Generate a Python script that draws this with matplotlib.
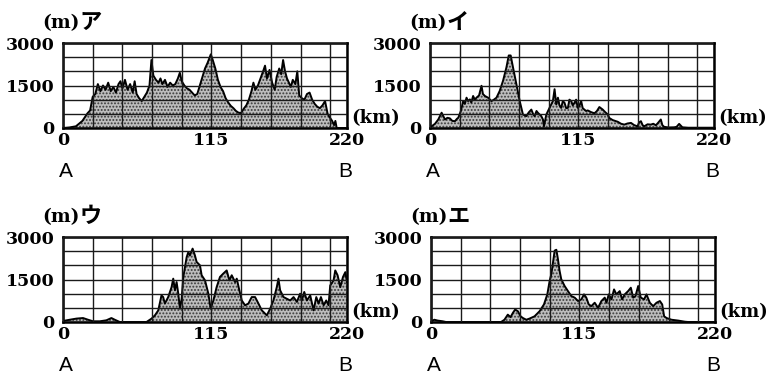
import numpy as np
import matplotlib.pyplot as plt

plt.rcParams['hatch.linewidth'] = 0.9

# 断面図の値 (距離 km, 標高 m)
km_a = [0, 5, 10, 15, 19, 21, 23, 25, 27, 29, 31, 33, 35, 37, 39, 41, 43, 44.5, 46, 48, 50, 52, 54, 55.5,
        57, 59, 61, 63, 65, 67, 68.5, 70, 72, 74, 75.5, 77, 79, 81, 83, 85, 87, 89, 90.5, 92, 94, 96, 98,
        100, 102, 104, 106, 108, 110, 112, 114.5, 116, 118, 120, 122, 124, 126, 128, 130, 132, 134, 136,
        138, 140, 142, 144, 146, 147.5, 149, 151, 153, 155, 156.5, 158, 160, 162, 164, 165.5, 167.5, 169,
        170.5, 172, 173.5, 175, 176.5, 178, 180, 181.5, 183, 185, 187, 189, 191, 193, 195, 197, 199, 201,
        203, 205, 207, 208.5, 210, 211, 212, 220]
elev_a = [0, 20, 60, 250, 520, 620, 1100, 1200, 1550, 1300, 1500, 1350, 1600, 1300, 1450, 1250, 1550, 1650,
          1400, 1700, 1350, 1550, 1250, 1650, 1200, 1050, 950, 1100, 1250, 1500, 2400, 1850, 1700, 1600, 1750,
          1550, 1700, 1450, 1600, 1500, 1550, 1750, 1950, 1650, 1500, 1400, 1350, 1250, 1150, 1200, 1500,
          1800, 2100, 2300, 2600, 2400, 2100, 1700, 1450, 1300, 1050, 900, 780, 700, 600, 540, 530, 680, 800,
          1000, 1300, 1600, 1350, 1500, 1750, 2000, 2200, 1750, 2050, 1600, 1350, 1800, 2100, 1900, 2400,
          2000, 1750, 1600, 1450, 1700, 1550, 2000, 1150, 1050, 1000, 1200, 1250, 1000, 850, 750, 700, 800,
          950, 500, 350, 250, 100, 250, 0, 0]

km_i = [0, 1.3, 3.9, 6.4, 9, 10.5, 11.6, 13.5, 15.4, 17.3, 19.3, 21, 21.9, 23.9, 25.7, 27, 28.3, 29.5, 30.9,
        32, 33.4, 34.7, 36, 38, 39.9, 41, 42.5, 45, 47.6, 49.5, 51.5, 54, 56.6, 59.2, 61, 62.5, 64.3, 66.9,
        69.5, 72, 74.6, 76.5, 78.5, 80, 81, 82.5, 83.6, 86.2, 87.5, 88.3, 90.1, 92.6, 95.2, 96.5, 97.8, 99.1,
        100.3, 101.6, 102.9, 104.2, 105.5, 106.8, 108, 109.4, 110.6, 111.9, 113.2, 114.5, 115.8, 117.1,
        118.3, 119.6, 120.9, 122.2, 124.8, 127.4, 129.3, 131.2, 133.8, 135.7, 137.7, 139, 141.5, 145.4, 148,
        150.5, 153, 155.7, 158.2, 160.8, 162, 163.4, 164.7, 166, 168.5, 171.1, 173, 175, 177, 178.8, 180,
        181.4, 185, 189.1, 191, 193, 195.5, 200, 220]
elev_i = [50, 60, 150, 300, 540, 400, 300, 360, 340, 250, 240, 330, 360, 600, 950, 850, 1070, 950, 1010, 900,
          1130, 1000, 1070, 1150, 1490, 1200, 1130, 1070, 950, 1000, 1070, 1310, 1670, 2140, 2560, 2560, 2140,
          1550, 950, 475, 420, 550, 650, 480, 420, 600, 535, 420, 300, 60, 475, 710, 950, 1370, 830, 1070, 800,
          710, 950, 890, 700, 710, 1000, 950, 800, 890, 1000, 710, 800, 950, 700, 650, 600, 620, 560, 520, 600,
          740, 650, 560, 480, 350, 280, 220, 150, 120, 160, 180, 100, 60, 200, 240, 100, 60, 130, 120, 150, 95,
          200, 300, 100, 40, 20, 25, 40, 145, 25, 10, 10]

km_u = [0, 5.2, 10.4, 15.5, 19.4, 23.3, 28.5, 33.6, 37.5, 40.1, 44, 54.3, 64.7, 68.6, 71.2, 73.8, 76.3, 77.6,
        78.9, 81.5, 84.1, 85.4, 86.7, 88, 89.3, 90.6, 91.9, 93.2, 94.5, 95.8, 97.1, 98.3, 100.4, 102.2, 103.5,
        106.1, 107.4, 110, 112.6, 114.4, 116.5, 119, 121.6, 124.2, 126.8, 128.9, 130.7, 133.3, 134.6, 136.6,
        138.5, 141, 143.6, 146.2, 148.8, 151.4, 154, 157.9, 160.5, 163, 165.6, 166.9, 168.2, 170.8, 173.4,
        176, 178.6, 181.2, 183.7, 185, 186.9, 188.9, 191.5, 194.1, 196.2, 198, 199.8, 201.9, 203.9, 205.7,
        207, 209.6, 210.9, 212.7, 214.8, 216.9, 218.7, 220]
elev_u = [35, 80, 120, 140, 80, 25, 25, 60, 140, 80, 0, 0, 0, 120, 235, 410, 940, 880, 650, 880, 1230, 1530,
          1120, 1410, 1000, 470, 820, 1590, 1940, 2290, 2470, 2350, 2590, 2350, 2120, 2000, 1650, 1470, 1000,
          470, 760, 1230, 1590, 1710, 1820, 1470, 1650, 1410, 1530, 1120, 760, 590, 650, 880, 880, 650, 410,
          235, 470, 760, 1230, 1530, 1120, 880, 820, 760, 880, 710, 1000, 760, 1060, 760, 940, 410, 880, 650,
          880, 590, 760, 590, 1290, 1470, 1820, 1650, 1230, 1590, 1760, 1410]

km_e = [0, 2.6, 5.2, 9.1, 11.6, 54.3, 56.9, 59.5, 61.6, 63.4, 65.2, 67.3, 69.4, 71.2, 73.8, 76.3, 80.2, 84.1,
        87.5, 90.1, 91.9, 93.2, 94.5, 95.8, 97.1, 98.3, 99.6, 100.9, 103.5, 106.1, 108.7, 111.3, 113.9, 116.5,
        118.5, 120.3, 122.2, 124.2, 126.8, 129.4, 132, 134.6, 135.9, 137.7, 139.8, 141.8, 143.6, 146.2, 148,
        150.1, 152.7, 154.8, 156.6, 158.4, 160.5, 162.5, 165.1, 166.9, 169.5, 172.1, 174.7, 177.3, 179.1,
        180.6, 182.5, 186.3, 191.5, 196.7, 199.3, 220]
elev_e = [25, 80, 50, 25, 0, 0, 80, 260, 170, 320, 440, 380, 200, 140, 80, 120, 200, 380, 620, 975, 1450,
          1690, 2100, 2520, 2550, 2230, 1810, 1510, 1270, 1090, 915, 860, 740, 800, 975, 860, 620, 560, 680,
          500, 740, 860, 680, 975, 800, 1150, 975, 1090, 800, 975, 1090, 1210, 860, 915, 1270, 860, 800, 975,
          680, 560, 680, 740, 620, 200, 140, 80, 50, 10, 0, 0]

names = ['ア', 'イ', 'ウ', 'エ']
xticks = [0, 115, 220]
yticks = [0, 1500, 3000]

profiles = [(km_a, elev_a), (km_i, elev_i), (km_u, elev_u), (km_e, elev_e)]
# 各グラフ枠の左上 (px)
corners = [(63, 43), (430, 43), (63, 237), (431, 237)]
W, H = 284, 85

fig = plt.figure(figsize=(7.68, 3.78), dpi=100)

for (km, elev), name, (x0, y0) in zip(profiles, names, corners):
    ax = fig.add_axes([x0 / 768, 1 - (y0 + H) / 378, W / 768, H / 378])
    ax.fill_between(km, elev, 0, facecolor='#bdbdbd', hatch='.....', edgecolor='#3a3a3a', linewidth=0)
    ax.plot(km, elev, color='black', lw=1.4)
    ax.set_xlim(0, 220)
    ax.set_ylim(0, 3000)

    # 目盛線
    ax.set_xticks(np.arange(23, 220, 23), minor=True)
    ax.set_yticks(np.arange(500, 3000, 500), minor=True)
    ax.set_xticks(xticks)
    ax.set_yticks(yticks)
    ax.grid(which='both', color='#1a1a1a', lw=1.0)
    ax.set_axisbelow(False)
    ax.tick_params(which='both', length=0)
    ax.tick_params(axis='x', pad=3)
    ax.tick_params(axis='y', pad=6)
    for lab in ax.get_xticklabels() + ax.get_yticklabels():
        lab.set_fontfamily('DejaVu Serif')
        lab.set_fontweight('bold')
        lab.set_fontsize(12.5)
    for sp in ax.spines.values():
        sp.set_linewidth(1.8)

    ax.annotate('(m)', xy=(0, 1), xycoords='axes fraction', xytext=(-15, 14),
                textcoords='offset points', ha='left', va='center',
                family='DejaVu Serif', fontweight='bold', fontsize=13.5)
    ax.annotate(name, xy=(0, 1), xycoords='axes fraction', xytext=(12, 14.5),
                textcoords='offset points', ha='left', va='center',
                family='Noto Sans CJK JP', fontweight='bold', fontsize=16)
    ax.annotate('(km)', xy=(1, 0), xycoords='axes fraction', xytext=(3, 7),
                textcoords='offset points', ha='left', va='center',
                family='DejaVu Serif', fontweight='bold', fontsize=13)
    ax.annotate('A', xy=(0, 0), xycoords='axes fraction', xytext=(2, -31),
                textcoords='offset points', ha='center', va='center',
                family='Liberation Sans', fontsize=15)
    ax.annotate('B', xy=(1, 0), xycoords='axes fraction', xytext=(-1.5, -31),
                textcoords='offset points', ha='center', va='center',
                family='Liberation Sans', fontsize=15)

fig.savefig('out.png', dpi=100)
